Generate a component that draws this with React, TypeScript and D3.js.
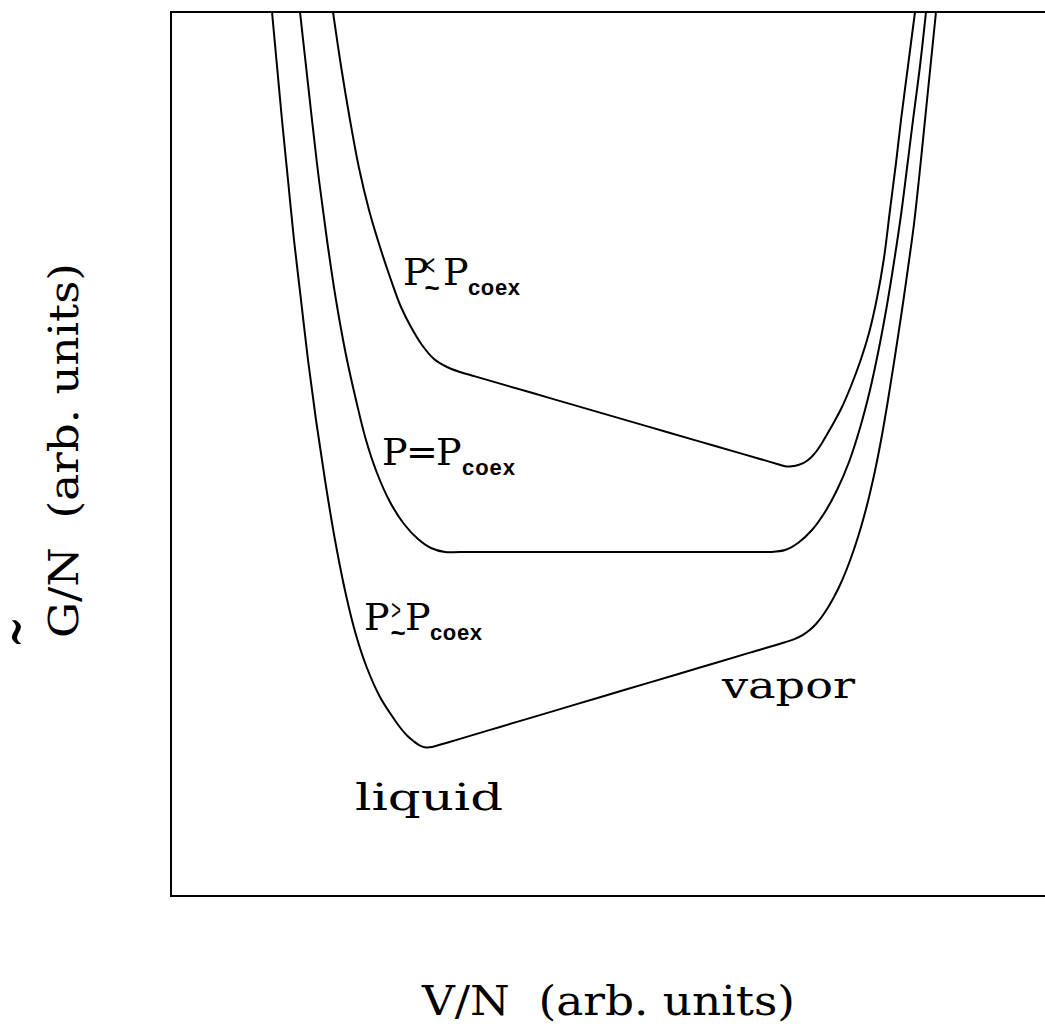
import React from "react";
import * as d3 from "d3";

// G/N versus V/N, arbitrary units. Three pressures around coexistence.
// P < Pcoex (upper curve)
const belowV = [162, 170, 179, 188, 198, 209, 220, 230, 240, 251, 263, 276, 289, 304, 329, 379, 429, 479, 529, 574, 589, 599, 607, 614, 621, 628, 635, 641, 646, 651, 656, 662, 671, 680, 689, 698, 706, 713, 719, 725, 730, 737, 744];
const belowG = [884, 830, 776, 728, 686, 649, 616, 589, 569, 551, 537, 529, 524, 519.65, 512.4, 497.9, 483.4, 468.9, 454.4, 441.35, 437, 434.1, 431.8, 429.8, 429.7, 431.2, 434.5, 439.5, 445.5, 453, 461.5, 472, 489, 510, 534, 563, 598, 638, 686, 733, 776, 830, 884];

// P = Pcoex (middle curve, flat common tangent)
const coexV = [129, 135, 141, 148, 156, 165, 175, 185, 195, 206, 219, 233, 247, 260, 274, 289, 389, 499, 589, 599, 614, 627, 641, 654, 666, 678, 689, 699, 708, 716, 723, 730, 736, 742, 749, 755];
const coexG = [884, 830, 776, 716, 656, 596, 541, 496, 456, 423, 394, 372, 357, 348, 344, 344, 344, 344, 344, 344, 346, 353, 366, 384, 406, 434, 468, 506, 548, 591, 634, 681, 728, 776, 830, 884];

// P > Pcoex (lower curve)
const aboveV = [101, 106, 111, 117, 123, 130, 137, 145, 154, 164, 175, 185, 196, 209, 219, 228, 236, 243, 249, 255, 261, 268, 276, 289, 329, 379, 429, 479, 529, 579, 614, 624, 632, 639, 645, 651, 657, 663, 669, 675, 681, 687, 693, 699, 705, 711, 717, 724, 731, 737, 743, 748.5, 754, 759.5, 765];
const aboveG = [884, 830, 776, 716, 656, 596, 536, 476, 416, 356, 301, 261, 228, 199, 183, 170, 160.5, 154.5, 150.4, 148.6, 149, 151, 153.3, 157.16, 169.05, 183.91, 198.77, 213.63, 228.49, 243.35, 253.75, 257.2, 261.2, 266.2, 272, 279.5, 288.5, 299, 311, 325, 341, 359, 379.5, 403, 430, 461, 496, 540, 586, 628, 672, 722, 776, 830, 884];

const xLabel = "V/N  (arb. units)";
const yLabel = "G/N  (arb. units)";
const phaseLabels = ["liquid", "vapor"];

const serif = "DejaVu Serif";
const sans = "Liberation Sans";

const x = d3.scaleLinear().domain([0, 874]).range([171, 1045]);
const y = d3.scaleLinear().domain([0, 884]).range([896, 12]);

const line = d3
  .line<[number, number]>()
  .x((d) => x(d[0]))
  .y((d) => y(d[1]))
  .curve(d3.curveCatmullRom.alpha(0.5));

const zip = (a: number[], b: number[]) => a.map((v, i) => [v, b[i]] as [number, number]);

function PLabel({ px, py, op, opdx = 29, p2dx = 40 }: { px: number; py: number; op: string; opdx?: number; p2dx?: number }) {
  // "P op P_coex" ; op "<" / ">" is small with a tilde underneath
  const sub = (dx: number, len: number) => (
    <text x={px + dx} y={py + 10} fontFamily={sans} fontWeight="bold" fontSize={22} textLength={len}>
      coex
    </text>
  );
  if (op === "=") {
    return (
      <g>
        <text x={px} y={py} fontFamily={serif} fontSize={38}>P</text>
        <text x={px + 24} y={py} fontFamily={serif} fontSize={38}>=</text>
        <text x={px + 54} y={py} fontFamily={serif} fontSize={38}>P</text>
        {sub(80, 53)}
      </g>
    );
  }
  return (
    <g>
      <text x={px} y={py} fontFamily={serif} fontSize={38}>P</text>
      <g transform={`translate(${px + opdx - 1},${py - 10}) scale(0.55,1)`}>
        <text textAnchor="middle" fontFamily={sans} fontSize={30}>{op}</text>
      </g>
      <text x={px + opdx + 1} y={py + 12} textAnchor="middle" fontFamily={sans} fontWeight="bold" fontSize={26}>~</text>
      <text x={px + p2dx} y={py} fontFamily={serif} fontSize={38}>P</text>
      {sub(p2dx + 25, 52)}
    </g>
  );
}

export default function App() {
  const curves = [zip(belowV, belowG), zip(coexV, coexG), zip(aboveV, aboveG)];
  const x0 = x(0);
  const y0 = y(884);
  const w = x(880) - x0;
  const h = y(0) - y0;

  return (
    <svg
      width={1045}
      height={1028}
      style={{ position: "absolute", left: 0, top: 0, background: "#fff" }}
    >
      <defs>
        <clipPath id="plot">
          <rect x={x0} y={y0} width={w} height={h} />
        </clipPath>
      </defs>
      <rect x={0} y={0} width={1045} height={1028} fill="#fff" />
      <rect x={x0} y={y0} width={w} height={h} fill="none" stroke="#000" strokeWidth={2} />

      <g clipPath="url(#plot)">
        {curves.map((c, i) => (
          <path key={i} d={line(c) ?? ""} fill="none" stroke="#000" strokeWidth={2} />
        ))}
      </g>

      <PLabel px={403} py={285} op="<" opdx={28} p2dx={40} />
      <PLabel px={382} py={465} op="=" />
      <PLabel px={364} py={630} op=">" opdx={33} p2dx={41} />

      <text x={355} y={810} fontFamily={serif} fontSize={38} textLength={148} lengthAdjust="spacingAndGlyphs">
        {phaseLabels[0]}
      </text>
      <text x={722} y={698} fontFamily={serif} fontSize={38} textLength={133} lengthAdjust="spacingAndGlyphs">
        {phaseLabels[1]}
      </text>

      <text
        x={422}
        y={1015}
        fontFamily={serif}
        fontSize={41}
        textLength={373}
        lengthAdjust="spacingAndGlyphs"
        style={{ whiteSpace: "pre" }}
      >
        {xLabel}
      </text>

      <g transform="translate(78,638) rotate(-90)">
        <text
          x={0}
          y={0}
          fontFamily={serif}
          fontSize={41}
          textLength={375}
          lengthAdjust="spacingAndGlyphs"
          style={{ whiteSpace: "pre" }}
        >
          {yLabel}
        </text>
        <g transform="translate(6,-42) scale(1,1.6)">
          <text textAnchor="middle" fontFamily={serif} fontSize={38}>~</text>
        </g>
      </g>
    </svg>
  );
}
